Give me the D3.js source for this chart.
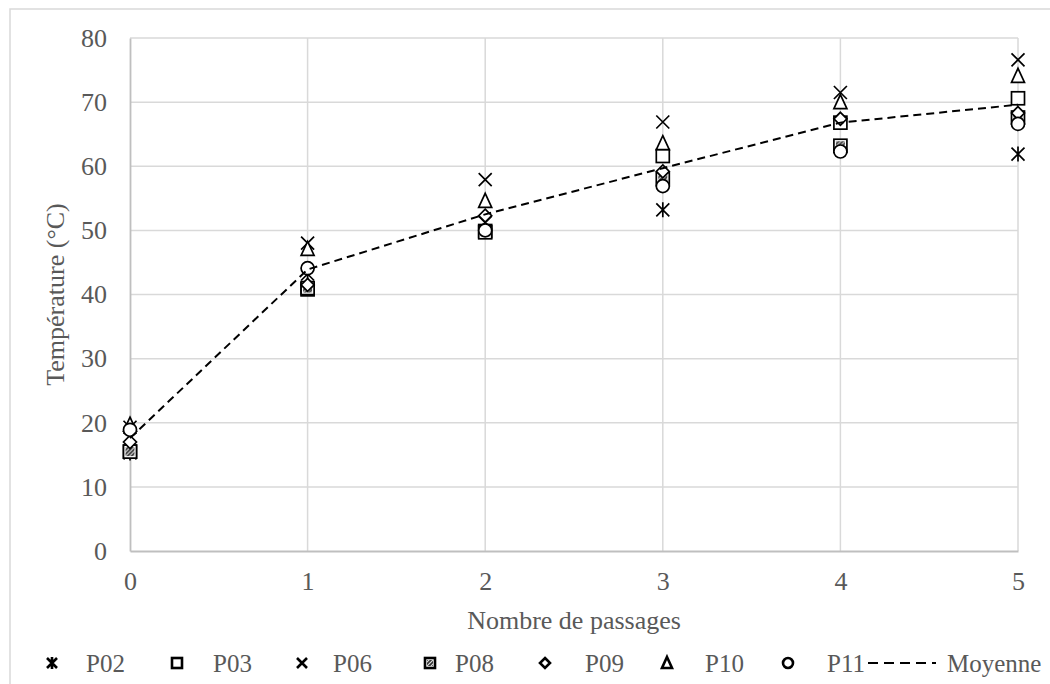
<!DOCTYPE html>
<meta charset="utf-8">
<script src="https://d3js.org/d3.v7.min.js"></script>
<style>
  body { margin: 0; background: #fff; }
  text { font-family: "Liberation Serif", "Times New Roman", serif; fill: #595959; }
</style>
<div id="chart"></div>
<script>
// passes (x values)
var passages = [0, 1, 2, 3, 4, 5];

// temperature per probe
var P02 = [15.3, 43.2, 51.2, 53.2, 63.0, 61.9];
var P03 = [15.5, 40.8, 49.9, 61.6, 66.8, 70.6];
var P06 = [19.3, 48.0, 57.9, 66.9, 71.5, 76.6];
var P08 = [15.5, 41.0, 49.7, 58.0, 63.2, 67.6];
var P09 = [17.0, 41.5, 52.3, 59.2, 67.4, 68.3];
var P10 = [19.7, 47.1, 54.6, 63.6, 70.0, 74.1];
var P11 = [18.9, 44.1, 50.0, 56.9, 62.3, 66.6];
var moyenne = [17.6, 43.9, 52.5, 59.7, 66.8, 69.6];

var yTicks = [0, 10, 20, 30, 40, 50, 60, 70, 80];

var series = [
  {name: "P02", values: P02, shape: "star"},
  {name: "P03", values: P03, shape: "square"},
  {name: "P06", values: P06, shape: "cross"},
  {name: "P08", values: P08, shape: "hatched"},
  {name: "P09", values: P09, shape: "diamond"},
  {name: "P10", values: P10, shape: "triangle"},
  {name: "P11", values: P11, shape: "circle"}
];

var W = 1050, H = 684;
var margin = {top: 38, right: 32, bottom: 133, left: 130},
    width = W - margin.left - margin.right,
    height = H - margin.top - margin.bottom;

var root = d3.select("#chart").append("svg")
    .attr("width", W).attr("height", H);

// outer chart frame
root.append("rect")
    .attr("x", 10).attr("y", 9)
    .attr("width", W + 20).attr("height", H + 20)
    .attr("fill", "none").attr("stroke", "#d9d9d9").attr("stroke-width", 1.5);

var svg = root.append("g")
    .attr("transform", "translate(" + margin.left + "," + margin.top + ")");

var x = d3.scaleLinear().domain([0, 5]).range([0, width]);
var y = d3.scaleLinear().domain([0, 80]).range([height, 0]);

// grid
svg.selectAll(".hgrid").data(yTicks.slice(1)).enter().append("line")
    .attr("x1", 0).attr("x2", width)
    .attr("y1", function(d) { return y(d); }).attr("y2", function(d) { return y(d); })
    .attr("stroke", "#d9d9d9").attr("stroke-width", 1.5);
svg.selectAll(".vgrid").data(passages.slice(1)).enter().append("line")
    .attr("x1", function(d) { return x(d); }).attr("x2", function(d) { return x(d); })
    .attr("y1", 0).attr("y2", height)
    .attr("stroke", "#d9d9d9").attr("stroke-width", 1.5);

// axes
var xAxis = svg.append("g")
    .attr("transform", "translate(0," + height + ")")
    .call(d3.axisBottom(x).tickValues(passages).tickFormat(d3.format("d")).tickSize(0).tickPadding(21));
var yAxis = svg.append("g")
    .call(d3.axisLeft(y).tickValues(yTicks).tickSize(0).tickPadding(23));
[xAxis, yAxis].forEach(function(a) {
  a.select(".domain").attr("stroke", "#bfbfbf").attr("stroke-width", 1.8);
  a.selectAll("text").style("font-size", "26px")
    .style("font-family", "Liberation Serif, Times New Roman, serif").attr("fill", "#595959");
});

// axis titles
svg.append("text")
    .attr("x", width / 2).attr("y", height + 78)
    .attr("text-anchor", "middle").style("font-size", "26px")
    .text("Nombre de passages");
svg.append("text")
    .attr("transform", "rotate(-90)")
    .attr("x", -height / 2).attr("y", -66)
    .attr("text-anchor", "middle").style("font-size", "26px")
    .text("Température (°C)");

// marker drawing
function drawMarker(g, shape, s, sw) {
  if (shape === "square") {
    g.append("rect").attr("x", -s).attr("y", -s).attr("width", 2 * s).attr("height", 2 * s)
      .attr("fill", "#fff").attr("stroke", "#000").attr("stroke-width", sw);
  } else if (shape === "hatched") {
    g.append("rect").attr("x", -s).attr("y", -s).attr("width", 2 * s).attr("height", 2 * s)
      .attr("fill", "#fff").attr("stroke", "#000").attr("stroke-width", sw);
    g.append("rect").attr("x", -s + 2).attr("y", -s + 2).attr("width", 2 * s - 4).attr("height", 2 * s - 4)
      .attr("fill", "url(#hatch)");
  } else if (shape === "diamond") {
    g.append("path").attr("d", "M0," + (-s) + "L" + s + ",0L0," + s + "L" + (-s) + ",0Z")
      .attr("fill", "#fff").attr("stroke", "#000").attr("stroke-width", sw);
  } else if (shape === "triangle") {
    g.append("path").attr("d", "M0," + (-s - 1) + "L" + s + "," + s + "L" + (-s) + "," + s + "Z")
      .attr("fill", "#fff").attr("stroke", "#000").attr("stroke-width", sw);
  } else if (shape === "circle") {
    g.append("circle").attr("r", s)
      .attr("fill", "#fff").attr("stroke", "#000").attr("stroke-width", sw);
  } else if (shape === "cross") {
    g.append("path").attr("d", "M" + (-s) + "," + (-s) + "L" + s + "," + s + "M" + (-s) + "," + s + "L" + s + "," + (-s))
      .attr("stroke", "#000").attr("stroke-width", sw);
  } else if (shape === "star") {
    g.append("path").attr("d", "M" + (-s) + "," + (-s) + "L" + s + "," + s + "M" + (-s) + "," + s + "L" + s + "," + (-s) +
        "M0," + (-s - 1) + "L0," + (s + 1))
      .attr("stroke", "#000").attr("stroke-width", sw);
  }
}

var defs = root.append("defs");
var pat = defs.append("pattern").attr("id", "hatch").attr("patternUnits", "userSpaceOnUse")
    .attr("width", 4).attr("height", 4);
pat.append("rect").attr("width", 4).attr("height", 4).attr("fill", "#333");
pat.append("path").attr("d", "M-1,1L1,-1M0,4L4,0M3,5L5,3").attr("stroke", "#ddd").attr("stroke-width", 1.2);

// points
series.forEach(function(sr) {
  sr.values.forEach(function(v, i) {
    var g = svg.append("g")
        .attr("transform", "translate(" + x(passages[i]) + "," + y(v) + ")");
    drawMarker(g, sr.shape, 6.5, 1.7);
  });
});

// mean line
svg.append("path")
    .datum(moyenne)
    .attr("fill", "none")
    .attr("stroke", "#000")
    .attr("stroke-width", 2)
    .attr("stroke-dasharray", "8,5")
    .attr("d", d3.line()
      .x(function(d, i) { return x(passages[i]); })
      .y(function(d) { return y(d); }));

// legend
var legendX = [52, 177, 302, 430, 545, 667, 788];
var legendT = [86, 213, 333, 455, 585, 705, 827];
var legend = root.append("g").attr("transform", "translate(0,663)");
series.forEach(function(sr, i) {
  var g = legend.append("g").attr("transform", "translate(" + legendX[i] + ",0)");
  drawMarker(g, sr.shape, 5, 2.6);
  legend.append("text").attr("x", legendT[i]).attr("y", 9).style("font-size", "25px").text(sr.name);
});
legend.append("line")
    .attr("x1", 868).attr("x2", 936).attr("y1", 0).attr("y2", 0)
    .attr("stroke", "#000").attr("stroke-width", 2.2).attr("stroke-dasharray", "10,6");
legend.append("text").attr("x", 947).attr("y", 9).style("font-size", "25px").text("Moyenne");
</script>
